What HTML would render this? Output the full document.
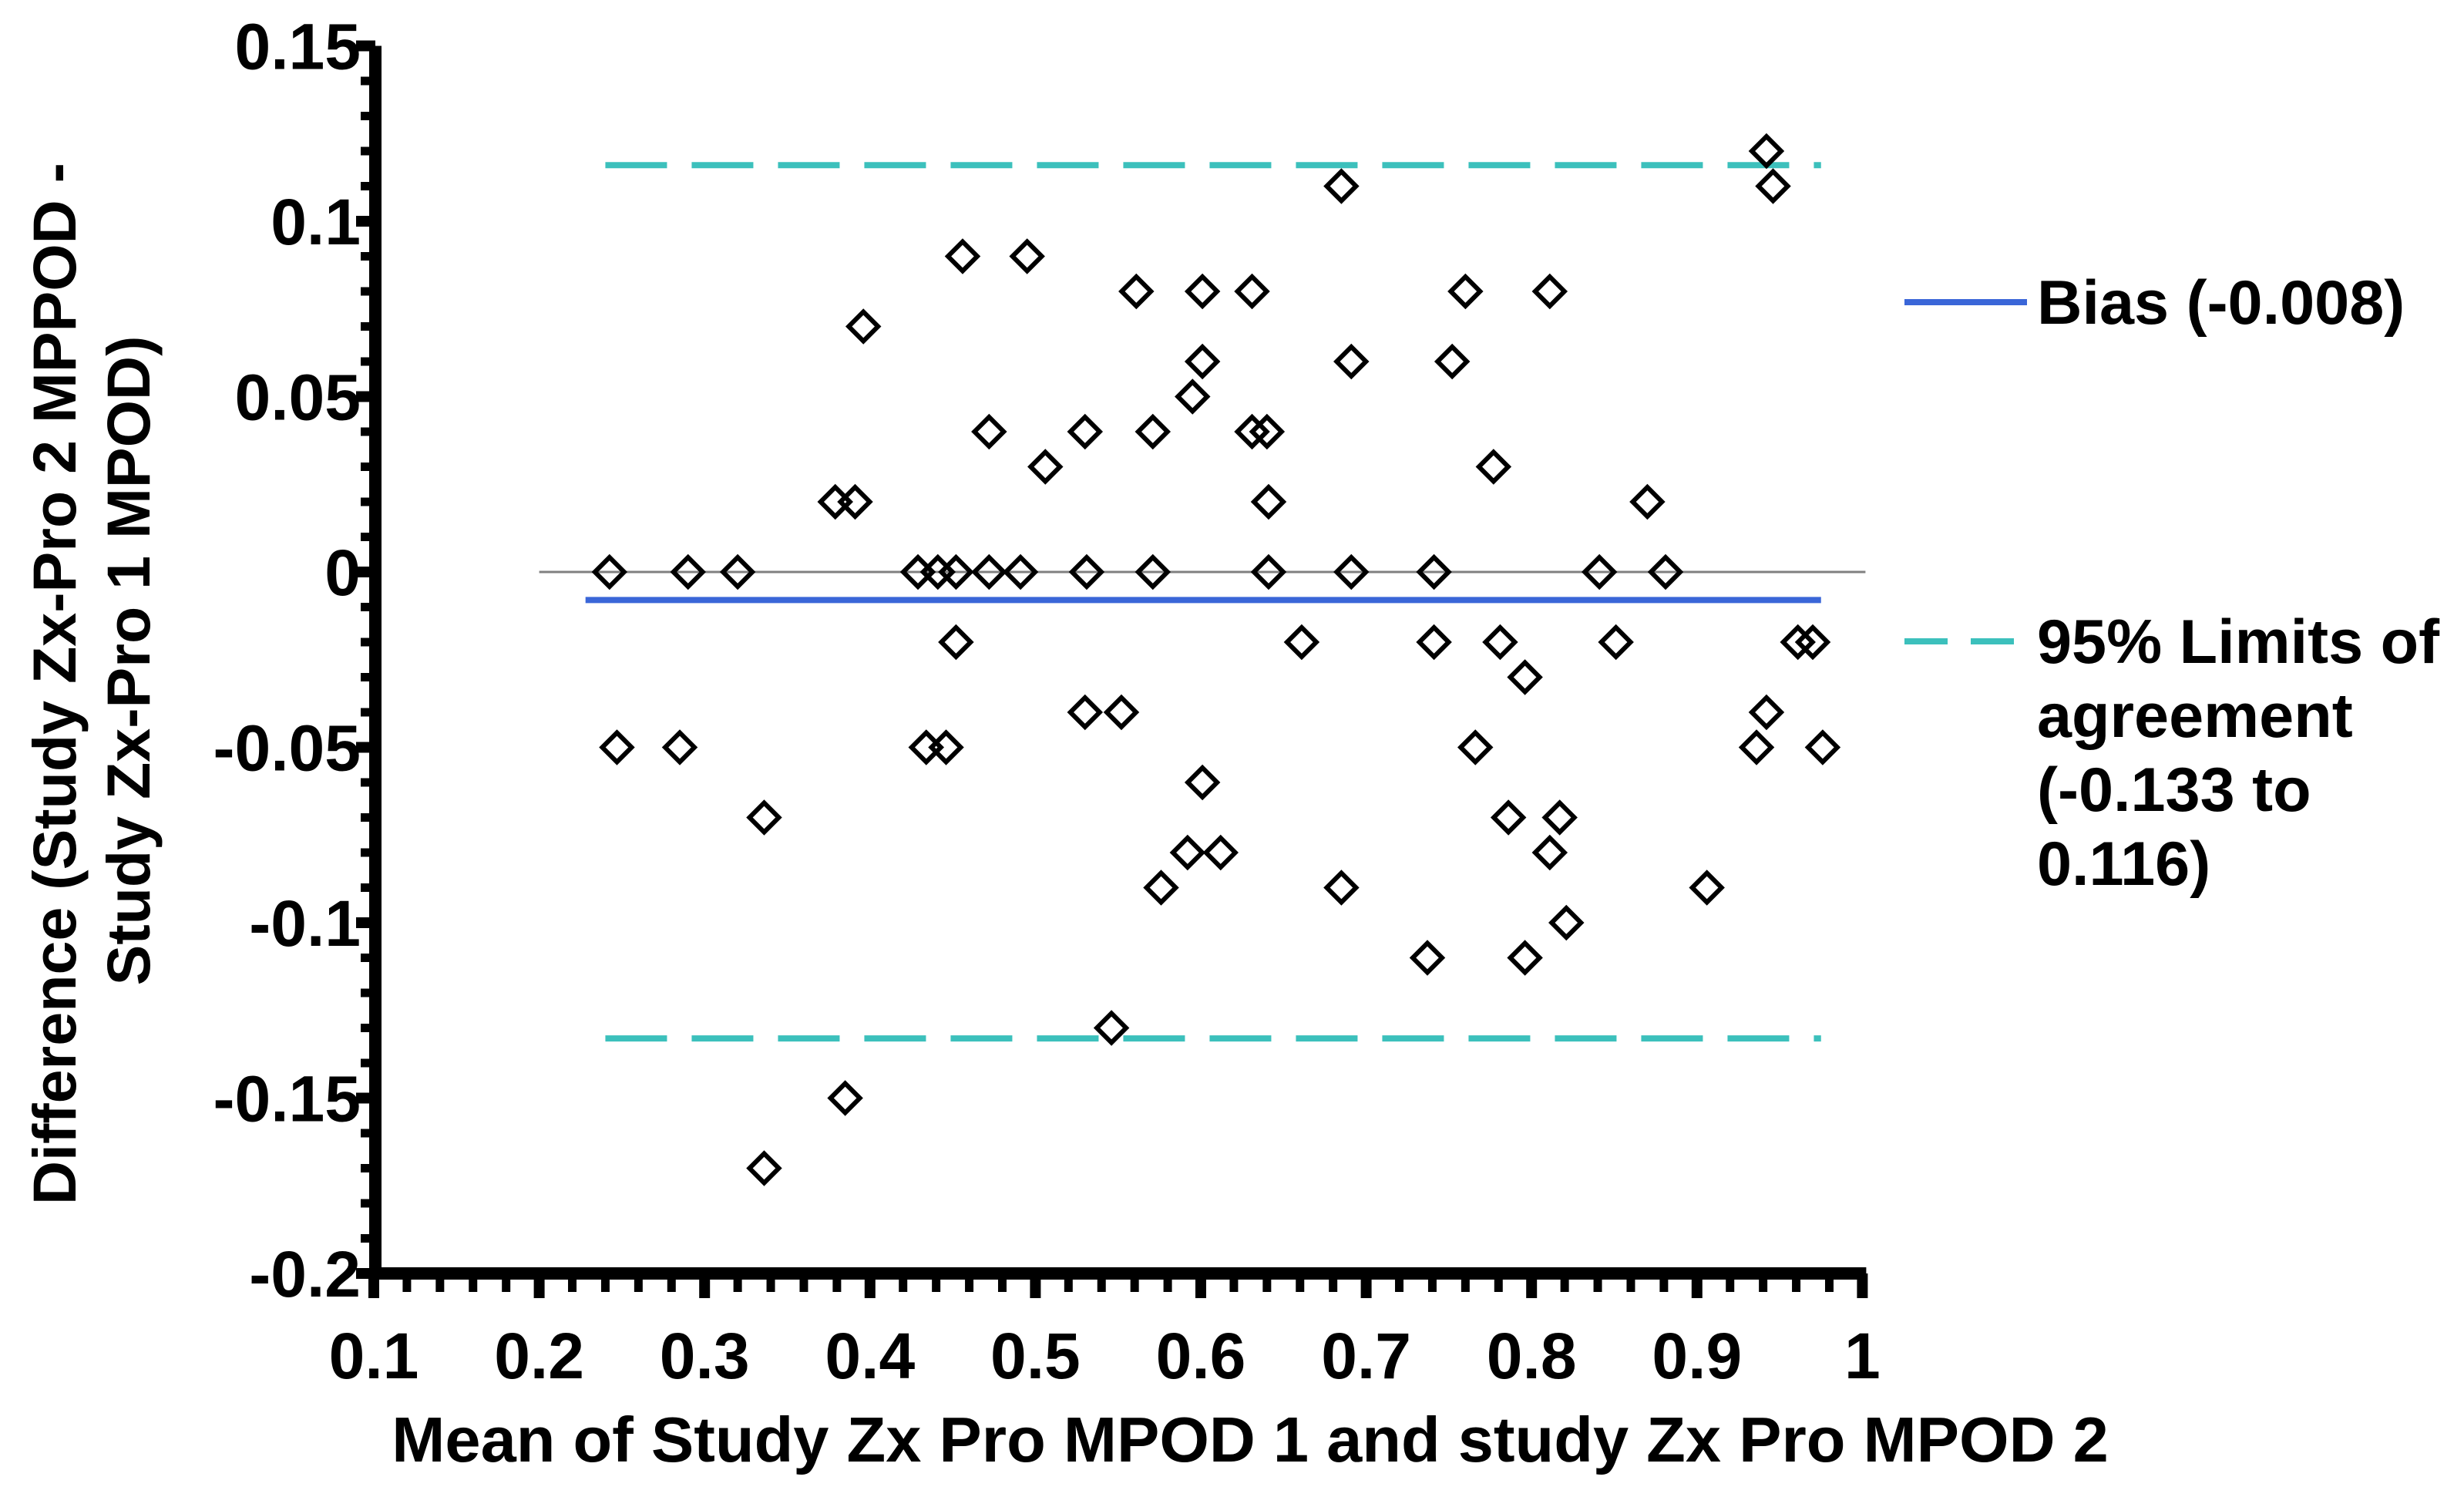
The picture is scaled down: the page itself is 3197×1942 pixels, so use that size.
<!DOCTYPE html>
<html><head><meta charset="utf-8"><style>
html,body{margin:0;padding:0;background:#fff}
svg{display:block;font-family:"Liberation Sans",Arial,sans-serif;font-weight:bold}
</style></head><body>
<svg id="chart" width="3197" height="1942" viewBox="0 0 3197 1942" xmlns="http://www.w3.org/2000/svg"></svg>
<script>
const xTicks=[0.1,0.2,0.3,0.4,0.5,0.6,0.7,0.8,0.9,1];
const xTickLabels=["0.1","0.2","0.3","0.4","0.5","0.6","0.7","0.8","0.9","1"];
const yTicks=[0.15,0.1,0.05,0,-0.05,-0.1,-0.15,-0.2];
const yTickLabels=["0.15","0.1","0.05","0","-0.05","-0.1","-0.15","-0.2"];
const meanVals=[0.2425,0.247,0.290,0.285,0.320,0.336,0.336,0.379,0.391,0.385,0.396,0.429,0.434,0.441,0.446,0.452,0.452,0.456,0.472,0.472,0.491,0.495,0.506,0.530,0.531,0.530,0.552,0.546,0.561,0.571,0.571,0.576,0.592,0.595,0.601,0.601,0.601,0.612,0.631,0.631,0.640,0.641,0.641,0.661,0.685,0.685,0.691,0.691,0.737,0.741,0.741,0.752,0.760,0.766,0.777,0.781,0.786,0.796,0.796,0.811,0.811,0.817,0.821,0.841,0.851,0.870,0.881,0.906,0.936,0.942,0.942,0.946,0.961,0.970,0.976];
const diffVals=[0,-0.05,0,-0.05,0,-0.07,-0.17,0.02,0.02,-0.15,0.07,0,-0.05,0,-0.05,0,-0.02,0.09,0.04,0,0,0.09,0.03,0.04,0,-0.04,-0.04,-0.13,0.08,0.04,0,-0.09,-0.08,0.05,0.08,0.06,-0.06,-0.08,0.08,0.04,0.04,0.02,0,-0.02,0.11,-0.09,0.06,0,-0.11,0,-0.02,0.06,0.08,-0.05,0.03,-0.02,-0.07,-0.03,-0.11,-0.08,0.08,-0.07,-0.10,0,-0.02,0.02,0,-0.09,-0.05,-0.04,0.12,0.11,-0.02,-0.02,-0.05];
const bias=[-0.008];
const limits=[-0.133,0.116];
const refRange=[0.2,1.0];
const biasRange=[0.228,0.975];
const loaRange=[0.24,0.975];

const NS="http://www.w3.org/2000/svg";
const svg=document.getElementById('chart');
const X=v=>485+(v-0.1)*2146;
const Y=v=>742-v*4550;
function mk(tag,attrs,parent){const e=document.createElementNS(NS,tag);for(const k in attrs)e.setAttribute(k,attrs[k]);(parent||svg).appendChild(e);return e;}

let e=mk('line',{x1:X(refRange[0]),x2:X(refRange[1])+4,y1:Y(0),y2:Y(0),stroke:'#808080','stroke-width':3});


e=mk('line',{x1:X(biasRange[0]),x2:X(biasRange[1]),y1:Y(bias[0]),y2:Y(bias[0]),stroke:'#3a66d8','stroke-width':8});


limits.forEach((l,i)=>{
  const d=mk('line',{x1:X(loaRange[0]),x2:X(loaRange[1]),y1:Y(l),y2:Y(l),stroke:'#3cc0bc','stroke-width':8,'stroke-dasharray':'80 32'});
  
  
});
meanVals.forEach((m,i)=>{
  const cx=X(m),cy=Y(diffVals[i]),r=19;
  const p=mk('polygon',{points:`${cx},${cy-r} ${cx+r},${cy} ${cx},${cy+r} ${cx-r},${cy}`,fill:'none',stroke:'#000','stroke-width':6});
  
  
});
e=mk('line',{x1:487,x2:487,y1:Y(0.15),y2:Y(-0.2)+8,stroke:'#000','stroke-width':16});


e=mk('line',{x1:480,x2:X(1)+5,y1:Y(-0.2),y2:Y(-0.2),stroke:'#000','stroke-width':16});


for(let k=0;k<=35;k++){const v=0.15-k*0.01;const major=k%5==0;
  const t=mk('line',{x1:major?462:468,x2:487,y1:Y(v),y2:Y(v),stroke:'#000','stroke-width':major?14:11});
  
  }
for(let k=0;k<=45;k++){const v=0.1+k*0.02;const major=k%5==0;
  const t=mk('line',{x1:X(v),x2:X(v),y1:Y(-0.2),y2:Y(-0.2)+(major?32:24),stroke:'#000','stroke-width':major?14:11});
  
  }
yTicks.forEach((v,i)=>{
  const t=mk('text',{x:468,y:Y(v)+30,'text-anchor':'end','font-size':84});t.textContent=yTickLabels[i];
  
  });
xTicks.forEach((v,i)=>{
  const t=mk('text',{x:X(v),y:1788,'text-anchor':'middle','font-size':84});t.textContent=xTickLabels[i];
  
  });
e=mk('text',{x:1622,y:1896,'text-anchor':'middle','font-size':83});e.textContent='Mean of Study Zx Pro MPOD 1 and study Zx Pro MPOD 2';


e=mk('text',{transform:'translate(98,887) rotate(-90)','text-anchor':'middle','font-size':79});e.textContent='Difference (Study Zx-Pro 2 MPPOD -';


e=mk('text',{transform:'translate(194,857) rotate(-90)','text-anchor':'middle','font-size':79});e.textContent='Study Zx-Pro 1 MPOD)';


e=mk('line',{x1:2471,x2:2630,y1:392,y2:392,stroke:'#3a66d8','stroke-width':8});


e=mk('text',{x:2643,y:420,'font-size':81});e.textContent='Bias (-0.008)';


e=mk('line',{x1:2471,x2:2630,y1:832,y2:832,stroke:'#3cc0bc','stroke-width':8,'stroke-dasharray':'56 30'});


["95% Limits of","agreement","(-0.133 to","0.116)"].forEach((s,i)=>{
  const t=mk('text',{x:2643,y:860+i*96,'font-size':81});t.textContent=s;
  
  });
</script>
</body></html>
